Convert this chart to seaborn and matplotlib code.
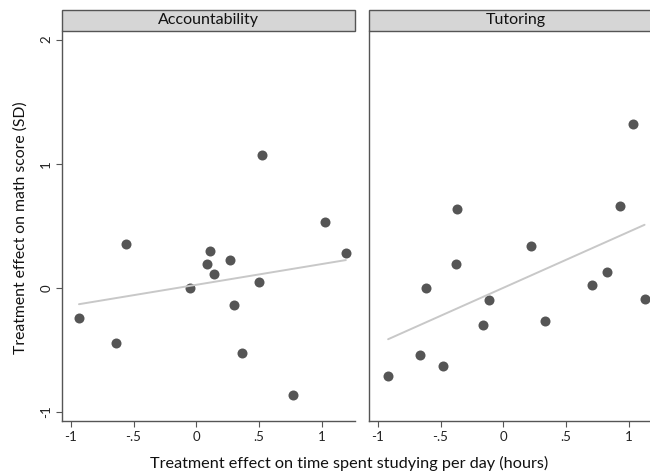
import numpy as np
import pandas as pd
import matplotlib
matplotlib.use("Agg")
import matplotlib.pyplot as plt
import seaborn as sns
from matplotlib.patches import Rectangle

# ----- DATA ----- #
acc_x = [-0.934, -0.642, -0.562, -0.051, 0.087, 0.108, 0.140, 0.267, 0.299,
         0.363, 0.501, 0.522, 0.769, 1.021, 1.190]
acc_y = [-0.242, -0.448, 0.350, 0.000, 0.189, 0.298, 0.108, 0.221, -0.140,
         -0.529, 0.048, 1.068, -0.863, 0.527, 0.280]
tut_x = [-0.917, -0.660, -0.618, -0.477, -0.371, -0.379, -0.159, -0.117, 0.223,
         0.334, 0.705, 0.822, 0.925, 1.034, 1.124]
tut_y = [-0.712, -0.540, 0.000, -0.631, 0.637, 0.189, -0.301, -0.099, 0.339,
         -0.271, 0.022, 0.129, 0.659, 1.318, -0.089]
panels = ["Accountability", "Tutoring"]
x_ticks = [-1, -0.5, 0, 0.5, 1]
x_ticklabels = ["-1", "-.5", "0", ".5", "1"]
y_ticks = [-1, 0, 1, 2]
y_ticklabels = ["-1", "0", "1", "2"]

df = pd.concat([
    pd.DataFrame({"time": acc_x, "math": acc_y, "program": panels[0]}),
    pd.DataFrame({"time": tut_x, "math": tut_y, "program": panels[1]}),
])

sns.set_style("white")
plt.rcParams["font.family"] = ["Lato", "DejaVu Sans"]

g = sns.FacetGrid(df, col="program", col_order=panels, sharex=True, sharey=True)
g.figure.set_size_inches(6.5, 4.74)
g.map_dataframe(sns.regplot, x="time", y="math", ci=None,
                scatter_kws={"s": 52, "color": "#555555", "alpha": 1, "linewidths": 0},
                line_kws={"color": "#c8c8c8", "lw": 1.4})

# ----- LAYOUT (Stata-like panels) ----- #
positions = [[0.0954, 0.1118, 0.4508, 0.8228], [0.5677, 0.1118, 0.4508, 0.8228]]
for ax, name, pos in zip(g.axes.flat, panels, positions):
    ax.set_position(pos)
    ax.set_xlim(-1.069, 1.263)
    ax.set_ylim(-1.075, 2.07)
    ax.set_title("")
    ax.set_xlabel("")
    ax.set_ylabel("")
    ax.set_xticks(x_ticks)
    ax.set_xticklabels(x_ticklabels)
    ax.tick_params(axis="both", direction="out", length=4, width=0.8,
                   color="#555555", labelsize=9.5, labelcolor="#222222",
                   pad=3, bottom=True, left=True)
    for s in ax.spines.values():
        s.set_color("#555555")
        s.set_linewidth(1.0)
    strip = Rectangle((0, 1.0), 1, 0.054, transform=ax.transAxes, clip_on=False,
                      facecolor="#d6d6d6", edgecolor="#555555", lw=1.0)
    ax.add_patch(strip)
    ax.text(0.5, 1.027, name, transform=ax.transAxes, ha="center", va="center",
            fontsize=11.5, color="#111111")

left = g.axes.flat[0]
left.set_yticks(y_ticks)
left.set_yticklabels(y_ticklabels, rotation=90, va="center")
g.axes.flat[1].tick_params(axis="y", left=False, labelleft=False)

g.figure.text(0.031, 0.519, "Treatment effect on math score (SD)", rotation=90,
              ha="center", va="center", fontsize=11.3, color="#111111")
g.figure.text(0.537, 0.022, "Treatment effect on time spent studying per day (hours)",
              ha="center", va="center", fontsize=11.7, color="#111111")

g.figure.savefig("out.png", dpi=100)
